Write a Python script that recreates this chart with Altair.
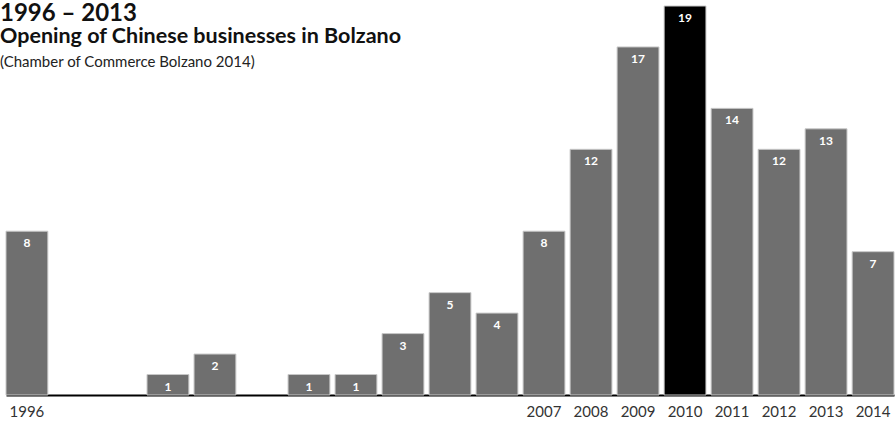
import altair as alt
import pandas as pd

years = [1996, 1997, 1998, 1999, 2000, 2001, 2002, 2003, 2004, 2005,
         2006, 2007, 2008, 2009, 2010, 2011, 2012, 2013, 2014]
counts = [8, 0, 0, 1, 2, 0, 1, 1, 3, 5, 4, 8, 12, 17, 19, 14, 12, 13, 7]
labeled_years = [1996, 2007, 2008, 2009, 2010, 2011, 2012, 2013, 2014]
highlight_year = 2010

title_lines = ["1996 – 2013", "Opening of Chinese businesses in Bolzano",
               "(Chamber of Commerce Bolzano 2014)"]

df = pd.DataFrame({"year": years, "count": counts})
bars_df = df[df["count"] > 0]

FONT = "Lato"

x = alt.X("year:O", sort=years,
          scale=alt.Scale(domain=years, paddingInner=0.11, paddingOuter=0),
          axis=alt.Axis(title=None, values=labeled_years, ticks=False,
                        labelAngle=0, labelFont=FONT, labelFontSize=15,
                        labelColor="#333333", labelPadding=9,
                        domainColor="#000000", domainWidth=2, grid=False))
y = alt.Y("count:Q", scale=alt.Scale(domain=[0, 19], nice=False),
          axis=None)

bars = alt.Chart(bars_df).mark_bar(stroke="#c8c8c8", strokeWidth=1).encode(
    x=x, y=y,
    color=alt.condition(alt.datum.year == highlight_year,
                        alt.value("#000000"), alt.value("#6f6f6f")),
)

labels = alt.Chart(bars_df).mark_text(
    font=FONT, fontWeight="bold", fontSize=12, color="white",
    baseline="alphabetic", dy=16,
).encode(x=x, y=y, text="count:Q")

t1 = alt.Chart(pd.DataFrame({"t": [title_lines[0]]})).mark_text(
    font=FONT, fontWeight="bold", fontSize=24, color="#111111",
    align="left", baseline="alphabetic").encode(
    text="t:N", x=alt.value(-6), y=alt.value(14.5))
t2 = alt.Chart(pd.DataFrame({"t": [title_lines[1]]})).mark_text(
    font=FONT, fontWeight="bold", fontSize=21.5, color="#111111",
    align="left", baseline="alphabetic").encode(
    text="t:N", x=alt.value(-6), y=alt.value(37))
t3 = alt.Chart(pd.DataFrame({"t": [title_lines[2]]})).mark_text(
    font=FONT, fontSize=15, color="#222222",
    align="left", baseline="alphabetic").encode(
    text="t:N", x=alt.value(-6), y=alt.value(60.5))

chart = alt.layer(bars, labels, t1, t2, t3).properties(
    width=888, height=389,
    background="white",
    autosize=alt.AutoSizeParams(type="none"),
    padding={"left": 6, "top": 6, "right": 1, "bottom": 30},
).configure_view(strokeWidth=0)

chart.save("out.html", embed_options={"renderer": "svg", "actions": False})
